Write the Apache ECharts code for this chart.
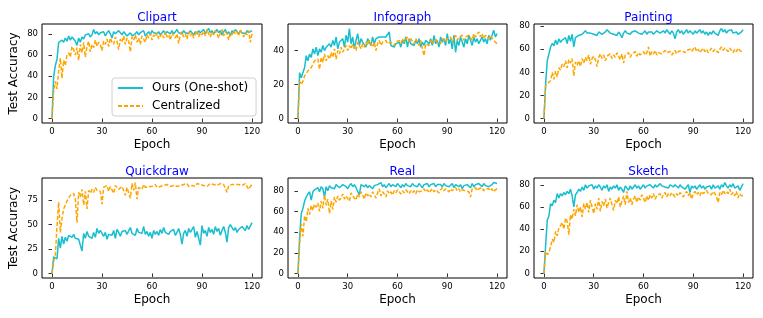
<!DOCTYPE html>
<html>
<head>
<meta charset="utf-8">
<script src="https://cdn.jsdelivr.net/npm/echarts@6/dist/echarts.min.js"></script>
<style>html,body{margin:0;padding:0;background:#fff}#c{width:763px;height:318px}</style>
</head>
<body>
<div id="c"></div>
<script>
const domains = ["Clipart", "Infograph", "Painting", "Quickdraw", "Real", "Sketch"];
const xTicks = [0, 30, 60, 90, 120];
const yTicks = [[0,20,40,60,80],[0,20,40],[0,20,40,60,80],[0,25,50,75],[0,20,40,60,80],[0,20,40,60,80]];
const seriesNames = ["Ours (One-shot)", "Centralized"];

const clipartOurs = [0,40,50,56,72,71,74,72,76,73, 78,74,77,75,73,69,76,72,77,75, 79,78,80,77,79,84,80,82,79,81, 80,82,78,81,83,80,76,82,80,79, 83,81,79,82,80,78,79,81,78,79, 80,82,79,81,80,83,78,80,82,79, 83,81,82,80,82,79,81,83,80,82, 81,80,83,80,82,84,81,82,80,83, 81,82,80,83,81,79,82,80,83,81, 82,84,80,83,85,81,83,80,82,84, 81,83,79,82,84,80,82,78,83,81, 84,82,80,83,81,82,80,83,81,82, 83];
const clipartCent = [0,25,35,28,45,57,38,55,50,60, 62,58,68,65,60,67,55,70,62,72, 58,68,73,63,70,67,74,68,72,70, 64,73,70,75,68,76,72,70,77,73, 65,75,72,78,70,76,73,63,77,74, 79,72,76,70,78,75,72,79,76,80, 74,79,77,81,75,78,80,76,82,77, 79,74,81,78,76,80,71,79,82,77, 80,75,82,78,81,76,80,83,77,81, 79,82,78,84,80,77,82,79,83,80, 76,81,84,78,82,80,74,81,79,83, 80,82,78,84,80,77,81,79,83,72, 80];
const infoOurs = [0,27,24,23,30,37,34,38,36,41, 38,42,37,41,39,43,40,42,41,44, 42,46,43,48,41,45,44,47,42,49, 45,53,44,48,41,46,50,43,47,45, 44,42,47,46,43,48,44,47,46,48, 47,48,49,48,49,51,43,44,42,44, 43,45,42,46,44,48,42,47,44,45, 43,46,44,47,42,45,43,46,45,44, 47,43,49,44,46,42,48,45,47,43, 50,44,47,41,49,39,46,43,48,45, 42,47,44,49,46,43,48,45,47,44, 46,48,45,47,44,49,46,47,52,48, 50];
const infoCent = [0,22,20,22,25,24,28,27,30,31, 34,33,35,29,36,33,38,34,37,35, 39,36,41,35,40,38,42,39,41,43, 40,43,41,44,42,40,45,43,41,44, 42,45,43,46,44,42,45,40,44,46, 43,45,44,46,44,43,45,44,43,45, 44,46,44,47,45,46,48,45,47,46, 44,47,45,43,46,41,37,44,45,43, 46,44,45,47,45,46,44,47,46,45, 47,46,48,45,47,49,46,48,47,49, 46,48,47,49,48,46,50,48,49,51, 48,50,47,49,48,47,49,48,46,45, 44];
const paintOurs = [0,30,50,50,62,65,63,68,64,69, 66,68,67,70,65,72,67,73,62,70, 71,72,71,73,72,76,74,75,74,75, 73,74,72,75,74,73,72,75,77,76, 74,75,73,74,72,75,73,70,74,76, 74,75,73,75,74,76,75,74,75,73, 74,76,73,75,74,75,73,74,76,75, 74,75,76,74,77,75,73,76,74,69, 75,77,74,76,73,75,77,74,76,75, 73,76,74,75,77,74,76,73,75,72, 75,73,76,74,75,72,76,78,75,77, 74,76,75,77,74,73,75,73,74,75, 77];
const paintCent = [0,28,30,31,33,40,34,41,36,44, 42,47,45,50,44,51,48,52,37,49, 46,50,45,52,48,53,50,55,47,52, 54,51,45,53,56,52,55,50,54,53, 56,52,55,53,57,54,51,56,48,55, 54,57,53,56,55,58,54,57,55,56, 58,55,57,62,54,58,56,59,55,57, 58,56,57,59,57,56,58,55,57,59, 56,58,57,59,58,57,59,58,60,58, 59,62,58,60,57,59,61,58,60,57, 59,61,58,60,59,57,60,62,59,61, 60,58,61,59,57,60,58,61,59,58, 57];
const quickOurs = [0,17,19,15,36,26,38,30,37,33, 39,38,37,40,36,38,35,33,23,41, 36,43,38,40,36,42,37,46,41,44, 45,38,42,35,40,38,39,44,36,45, 42,38,43,41,44,40,38,47,41,43, 39,46,42,44,41,48,40,43,38,42, 36,44,40,43,39,45,41,47,42,44, 40,43,41,45,39,42,46,40,30,41, 44,38,46,42,40,48,37,43,45,29, 49,41,44,38,47,42,45,40,48,43, 46,39,44,48,42,32,47,50,51,44, 47,42,45,43,48,46,44,49,45,47, 52];
const quickCent = [0,12,18,48,73,42,56,66,70,74, 77,80,79,82,76,52,83,78,86,70, 84,66,85,82,86,83,88,85,87,84, 71,88,86,90,84,89,87,82,90,88, 86,84,89,87,80,88,86,77,92,85, 93,76,88,90,86,91,88,90,89,91, 89,90,91,88,90,89,91,90,88,91, 90,89,91,90,92,89,91,90,89,91, 90,92,89,91,90,91,89,92,90,91, 92,90,91,89,91,92,90,91,92,90, 91,92,90,91,89,83,90,92,91,92, 91,92,91,92,90,91,92,90,86,89, 91];
const realOurs = [0,35,58,63,70,74,77,79,71,79, 81,80,83,79,84,82,74,84,80,85, 83,84,82,86,85,83,84,86,85,84, 82,85,87,84,86,83,82,76,86,85, 84,86,83,85,84,82,85,84,86,85, 88,84,86,83,85,87,84,86,85,84, 87,85,83,86,84,87,85,86,84,87, 85,86,84,87,85,83,86,85,87,84, 86,85,87,84,86,85,86,84,87,85, 86,84,85,87,83,86,85,84,86,82, 85,84,86,85,83,87,84,86,85,87, 86,84,87,85,86,84,85,86,88,87, 87];
const realCent = [0,28,48,36,56,50,63,57,66,61, 67,64,68,60,70,63,76,66,72,58, 70,62,74,69,75,71,73,77,72,75, 74,70,78,75,73,71,77,74,79,76, 72,78,75,77,74,79,76,73,78,82, 75,79,77,74,80,77,79,76,80,78, 81,79,77,80,78,81,79,77,80,78, 80,77,81,79,78,80,82,79,81,78, 80,82,79,81,80,78,81,83,80,82, 81,79,82,80,81,83,80,82,79,81, 82,80,81,79,74,82,81,83,80,82, 81,83,80,82,81,82,80,82,79,81, 82];
const sketchOurs = [0,25,48,52,63,61,66,64,72,68, 72,70,73,71,74,72,76,70,60,71, 73,76,74,78,75,80,77,79,78,80, 76,79,77,80,78,75,79,77,80,74, 78,76,79,77,80,75,78,76,73,79, 77,75,79,76,78,80,77,79,76,78, 80,77,79,78,80,79,77,80,78,79, 81,79,80,78,79,77,80,79,78,80, 79,77,80,78,79,76,78,80,73,79, 77,79,76,78,80,77,79,76,78,77, 79,76,80,77,78,79,76,80,78,82, 79,77,80,78,81,77,76,79,75,78, 81];
const sketchCent = [0,20,17,19,24,31,28,38,34,41, 43,46,40,50,47,35,53,49,58,52, 62,55,60,51,63,58,64,55,66,60, 54,63,58,68,56,65,61,67,59,64, 68,62,57,66,63,69,60,65,70,62, 74,64,68,62,67,70,64,69,66,71, 68,64,70,66,71,68,72,67,70,69, 72,68,71,73,69,72,70,73,71,69, 72,70,73,71,69,72,74,70,73,67, 72,74,71,73,70,74,72,71,75,72, 73,71,74,72,69,64,73,71,75,72, 74,72,76,71,73,70,74,68,72,70, 70];

const oursData = [clipartOurs, infoOurs, paintOurs, quickOurs, realOurs, sketchOurs];
const centData = [clipartCent, infoCent, paintCent, quickCent, realCent, sketchCent];

const grids = [
  {left: 42, top: 24, width: 220, height: 99},
  {left: 288, top: 24, width: 219, height: 99},
  {left: 534, top: 24, width: 219, height: 99},
  {left: 42, top: 178, width: 220, height: 100},
  {left: 288, top: 178, width: 219, height: 100},
  {left: 534, top: 178, width: 219, height: 100}
];
const FONT = "DejaVu Sans";
const CYAN = "#17becf", ORANGE = "#ffa500";

const option = {
  animation: false,
  backgroundColor: "#fff",
  title: [], grid: [], xAxis: [], yAxis: [], series: [],
  legend: {
    data: seriesNames,
    orient: "vertical",
    left: 112, top: 78,
    padding: [4, 8, 4, 5],
    itemGap: 6,
    itemWidth: 25, itemHeight: 12,
    itemStyle: {opacity: 0, borderWidth: 0},
    borderColor: "#d0d0d0", borderWidth: 1, borderRadius: 3,
    backgroundColor: "rgba(255,255,255,0.85)",
    textStyle: {fontFamily: FONT, fontSize: 12, color: "#000", padding: [0, 0, 0, 4]}
  }
};

domains.forEach((name, i) => {
  const g = grids[i];
  option.grid.push(Object.assign({show: true, borderColor: "#000", borderWidth: 1, backgroundColor: "transparent", containLabel: false}, g));
  option.title.push({
    text: name, left: g.left + g.width / 2, top: g.top - 17, textAlign: "center",
    textStyle: {fontFamily: FONT, fontSize: 12, fontWeight: "normal", color: "#0000ff"}
  });
  const all = oursData[i].concat(centData[i]);
  const mx = Math.max(...all), mn = Math.min(...all);
  const pad = (mx - mn) * 0.05;
  option.xAxis.push({
    type: "value", gridIndex: i, min: -6, max: 126,
    name: "Epoch", nameLocation: "middle", nameGap: 16,
    nameTextStyle: {fontFamily: FONT, fontSize: 12, color: "#000"},
    axisLine: {show: false},
    axisTick: {show: true, length: 3.5, inside: false, customValues: xTicks, lineStyle: {color: "#000", width: 0.8}},
    axisLabel: {customValues: xTicks, fontFamily: FONT, fontSize: 8.5, color: "#000", margin: 4},
    splitLine: {show: false}
  });
  option.yAxis.push({
    type: "value", gridIndex: i, min: mn - pad, max: mx + pad,
    name: (i % 3 === 0) ? "Test Accuracy" : "", nameLocation: "middle", nameGap: 22, nameRotate: 90,
    nameTextStyle: {fontFamily: FONT, fontSize: 12, color: "#000"},
    axisLine: {show: false},
    axisTick: {show: true, length: 3.5, inside: false, customValues: yTicks[i], lineStyle: {color: "#000", width: 0.8}},
    axisLabel: {customValues: yTicks[i], fontFamily: FONT, fontSize: 8.5, color: "#000", margin: 4},
    splitLine: {show: false}
  });
  option.series.push({
    name: seriesNames[0], type: "line", xAxisIndex: i, yAxisIndex: i,
    data: oursData[i].map((v, k) => [k, v]),
    showSymbol: false, symbol: "none", z: 2,
    lineStyle: {color: CYAN, width: 1.5}, itemStyle: {color: CYAN}
  });
  option.series.push({
    name: seriesNames[1], type: "line", xAxisIndex: i, yAxisIndex: i,
    data: centData[i].map((v, k) => [k, v]),
    showSymbol: false, symbol: "none", z: 3,
    lineStyle: {color: ORANGE, width: 1.5, type: [4, 2]}, itemStyle: {color: ORANGE}
  });
});

const chart = echarts.init(document.getElementById("c"), null, {renderer: "canvas"});
chart.setOption(option);
</script>
</body>
</html>
